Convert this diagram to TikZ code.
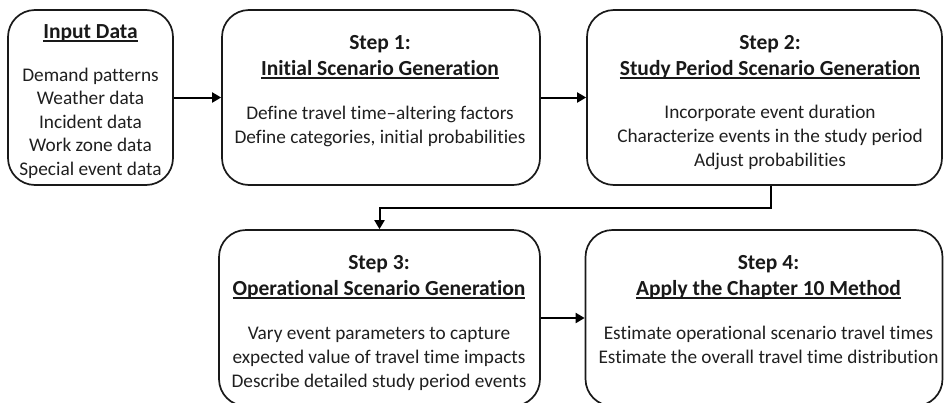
\documentclass[tikz,border=0pt]{standalone}
\usepackage{fontspec}
\setmainfont{Carlito}[Ligatures=NoCommon]
\usetikzlibrary{arrows.meta}
\newcommand{\myul}[1]{\leavevmode\setbox0\hbox{#1}\rlap{\vrule width\wd0 height -2.4pt depth 3.8pt}\box0}
\begin{document}
\begin{tikzpicture}[x=1pt,y=-1pt,
  box/.style={draw=black!90, line width=1.7pt, rounded corners=27pt, inner sep=0pt},
  ttl/.style={anchor=base, inner sep=0pt, font=\fontsize{21.5}{26}\selectfont\bfseries, text=black!90},
  bdy/.style={anchor=base, inner sep=0pt, font=\fontsize{19.3}{23}\selectfont, text=black!88},
  arr/.style={line width=2pt, draw=black, -{Triangle[length=9pt,width=10pt]}}]
\useasboundingbox (0,0) rectangle (944,402);
\clip (0,0) rectangle (944,402);
% boxes
\node[box, minimum width=165pt, minimum height=175pt] (in) at (90.5,97.5) {};
\node[box, minimum width=318pt, minimum height=175pt] (s1) at (381,97.5) {};
\node[box, minimum width=355pt, minimum height=175pt] (s2) at (764.5,97.5) {};
\node[box, minimum width=321pt, minimum height=176pt] (s3) at (379.5,318) {};
\node[box, minimum width=357pt, minimum height=176pt] (s4) at (764,318) {};
% input texts
\node[ttl] (inT) at (90.5,38) {\myul{Input Data}};
\node[bdy] (inA) at (90.5,81) {Demand patterns};
\node[bdy] (inB) at (90.5,104.5) {Weather data};
\node[bdy] (inC) at (90.5,128) {Incident data};
\node[bdy] (inD) at (90.5,151.5) {Work zone data};
\node[bdy] (inE) at (90.5,175) {Special event data};
% step 1
\node[ttl] (s1T) at (380,49) {Step 1:};
\node[ttl] (s1U) at (380,75) {\myul{Initial Scenario Generation}};
\node[bdy] (s1A) at (380,119) {Define travel time–altering factors};
\node[bdy] (s1B) at (380,143) {Define categories, initial probabilities};
% step 2
\node[ttl] (s2T) at (770,49) {Step 2:};
\node[ttl] (s2U) at (770,75) {\myul{Study Period Scenario Generation}};
\node[bdy] (s2A) at (770,118.5) {Incorporate event duration};
\node[bdy] (s2B) at (770,142.5) {Characterize events in the study period};
\node[bdy] (s2C) at (770,166.5) {Adjust probabilities};
% step 3
\node[ttl] (s3T) at (379,269) {Step 3:};
\node[ttl] (s3U) at (379,295) {\myul{Operational Scenario Generation}};
\node[bdy] (s3A) at (379,339.5) {Vary event parameters to capture};
\node[bdy] (s3B) at (379,363.5) {expected value of travel time impacts};
\node[bdy] (s3C) at (379,387.5) {Describe detailed study period events};
% step 4
\node[ttl] (s4T) at (768.5,269) {Step 4:};
\node[ttl] (s4U) at (768.5,295) {\myul{Apply the Chapter 10 Method}};
\node[bdy] (s4A) at (768.5,339.5) {Estimate operational scenario travel times};
\node[bdy] (s4B) at (768.5,363.5) {Estimate the overall travel time distribution};
% connectors
\draw[arr] (in) -- (s1);
\draw[arr] (s1) -- (s2);
\coordinate (bend) at (771,208);
\draw[arr] (bend |- s2.south) -- (bend) -| (s3.north);
\draw[arr] (s3) -- (s4);
\end{tikzpicture}
\end{document}
